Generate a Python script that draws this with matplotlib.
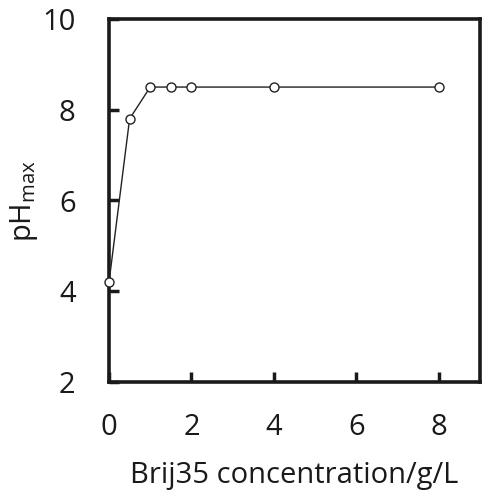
import matplotlib
matplotlib.use("Agg")
import matplotlib.pyplot as plt

conc = [0, 0.5, 1, 1.5, 2, 4, 8]
ph_max = [4.2, 7.8, 8.5, 8.5, 8.5, 8.5, 8.5]
xticks = [0, 2, 4, 6, 8]
yticks = [2, 4, 6, 8, 10]

plt.rcParams['font.family'] = ['Open Sans', 'DejaVu Sans']

fig = plt.figure(figsize=(4.82, 4.90), dpi=100)
ax = fig.add_axes([109/482, 1 - 382/490, (480-109)/482, (382-19)/490])

ax.plot(conc, ph_max, color='#222222', lw=1.0, marker='o', ms=6.5,
        mfc='white', mec='#222222', mew=1.0, clip_on=False, zorder=3)

ax.set_xlim(0, 9)
ax.set_ylim(2, 10)
ax.set_xticks(xticks)
ax.set_yticks(yticks)
ax.tick_params(direction='in', length=7.5, width=2.5, labelsize=21, color='#1a1a1a',
               labelcolor='#1a1a1a')
ax.tick_params(axis='x', pad=22)
ax.tick_params(axis='y', pad=24)
for s in ax.spines.values():
    s.set_linewidth(2.6)
    s.set_color('#1a1a1a')

ax.set_xlabel('Brij35 concentration/g/L', fontsize=21, color='#1a1a1a', labelpad=14)
ax.set_ylabel(r'pH$_{\mathregular{max}}$', fontsize=21, color='#1a1a1a', labelpad=2)

fig.savefig('out.png', dpi=100)
